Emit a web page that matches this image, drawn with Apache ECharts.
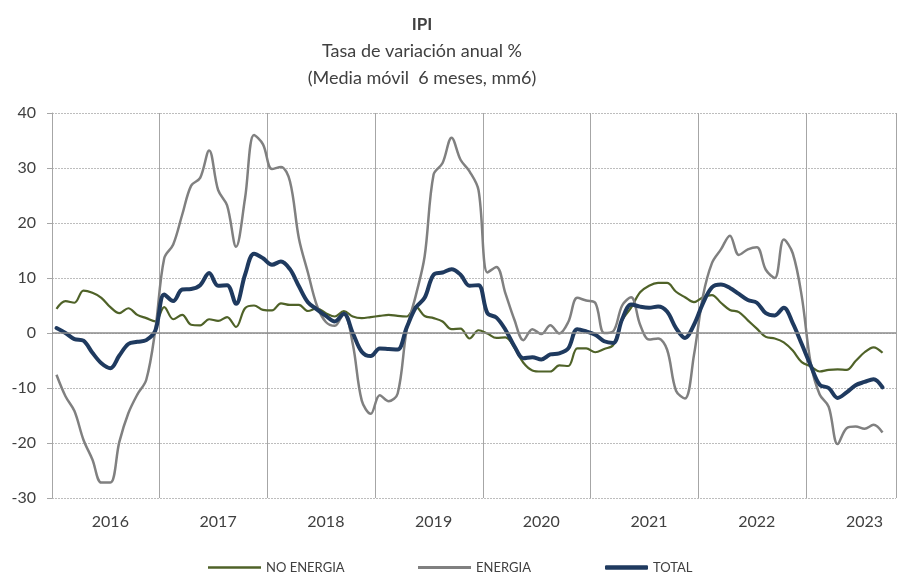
<!DOCTYPE html>
<html>
<head>
<meta charset="utf-8">
<script src="https://cdn.jsdelivr.net/npm/echarts@6/dist/echarts.min.js"></script>
<style>
  html, body { margin: 0; padding: 0; background: #fff; }
  #ipi { width: 899px; height: 572px; }
</style>
</head>
<body>
<div id="ipi"></div>
<script>
// años del eje, datos mensuales ene-2016 .. sep-2023
var years = ['2016', '2017', '2018', '2019', '2020', '2021', '2022', '2023'];

var noEnergia = [
    4.4, 5.8, 5.5, 7.7, 7.3, 6.4, 4.7, 3.6, 4.5, 3.3, 2.7, 2.1,
    4.7, 2.5, 3.3, 1.5, 1.4, 2.5, 2.2, 2.9, 1.1, 4.5, 5.0, 4.2,
    4.1, 5.4, 5.1, 5.1, 4.0, 4.5, 3.6, 3.0, 4.0, 3.0, 2.7, 2.9,
    3.1, 3.3, 3.1, 3.0, 4.8, 3.1, 2.7, 2.1, 0.7, 0.8, -1.0, 0.5,
    -0.1, -0.9, -0.8, -2.7, -5.4, -6.8, -7.0, -7.0, -5.9, -6.0, -2.8, -2.8,
    -3.5, -2.9, -2.2, 2.3, 4.6, 7.4, 8.6, 9.1, 9.1, 7.5, 6.5, 5.6,
    6.5, 6.9, 5.5, 4.2, 3.8, 2.3, 0.8, -0.7, -1.0, -1.7, -3.2, -5.3,
    -6.1, -7.0, -6.7, -6.6, -6.7, -5.1, -3.5, -2.6, -3.6
];

var energia = [
    -7.6, -11.5, -14.2, -19.4, -23.0, -27.2, -27.2, -19.8, -14.6, -11.2, -8.5, 0.5,
    13.6, 16.1, 21.5, 26.8, 28.2, 33.2, 26.0, 23.2, 15.7, 24.5, 36.0, 34.3,
    29.8, 30.2, 27.6, 17.2, 11.0, 5.0, 2.0, 1.3, 3.6, -2.0, -12.3, -14.7,
    -11.3, -12.4, -11.0, 0.5, 6.7, 13.9, 28.8, 30.9, 35.5, 31.5, 29.4, 26.0,
    11.0, 12.0, 7.2, 2.4, -1.3, 0.7, -0.2, 1.4, -0.1, 2.0, 6.4, 5.9,
    5.5, 0.0, 0.3, 5.0, 6.5, 1.5, -1.2, -1.0, -3.0, -10.5, -11.9, -4.0,
    6.7, 12.7, 15.2, 17.7, 14.2, 15.2, 15.6, 11.5, 10.0, 17.0, 14.5, 6.7,
    -5.5, -11.2, -13.4, -20.2, -17.3, -17.0, -17.4, -16.7, -18.1
];

var total = [
    0.9, 0.0, -1.1, -1.4, -3.6, -5.5, -6.4, -4.1, -2.0, -1.6, -1.3, 0.4,
    7.0, 5.8, 7.9, 8.0, 8.7, 10.9, 8.6, 8.7, 5.3, 10.6, 14.4, 13.6,
    12.4, 13.0, 11.6, 8.5, 5.6, 4.3, 3.1, 2.1, 3.5, 0.0, -3.4, -4.2,
    -2.8, -2.9, -3.0, 1.0, 4.6, 6.4, 10.6, 11.0, 11.6, 10.6, 8.6, 8.7,
    3.6, 2.8, 0.6, -2.4, -4.6, -4.4, -4.8, -3.9, -3.7, -2.8, 0.7, 0.3,
    -0.3, -1.5, -1.8, 2.5, 5.2, 4.8, 4.6, 4.8, 3.9, 0.9, -0.9, 1.5,
    5.4, 8.3, 8.8, 8.2, 7.1, 6.0, 5.5, 3.6, 3.2, 4.6, 1.8, -2.0,
    -5.9, -9.4, -10.0, -11.8, -10.8, -9.5, -8.9, -8.4, -9.9
];

// meses del eje: ene-2016 .. oct-2023 (el gráfico queda cortado ahí)
var months = [];
for (var y = 0; y < years.length; y++) {
    var last = (y === years.length - 1) ? 10 : 12;
    for (var m = 1; m <= last; m++) {
        months.push(years[y] + '-' + (m < 10 ? '0' + m : m));
    }
}

var font = 'Lato';
var textColor = '#404040';

function legendItem(name, left, width, height, icon) {
    return {
        data: [{ name: name, icon: icon }],
        left: left, top: 556,
        itemWidth: width, itemHeight: height,
        textStyle: { fontFamily: font, fontSize: 13, color: textColor }
    };
}

var myChart = echarts.init(document.getElementById('ipi'));
var option = {
    animation: false,
    textStyle: { fontFamily: font, color: textColor },
    title: [
        { text: 'IPI', left: 417, top: 11, textAlign: 'center',
          textStyle: { fontFamily: font, fontSize: 17, fontWeight: 'bold', color: textColor } },
        { text: 'Tasa de variación anual %', left: 417, top: 37, textAlign: 'center',
          textStyle: { fontFamily: font, fontSize: 18, fontWeight: 'normal', color: textColor } },
        { text: '(Media móvil  6 meses, mm6)', left: 417, top: 64, textAlign: 'center',
          textStyle: { fontFamily: font, fontSize: 18, fontWeight: 'normal', color: textColor } }
    ],
    legend: [
        legendItem('NO ENERGIA', 203, 53, 2.5, 'rect'),
        legendItem('ENERGIA', 413, 53, 3, 'rect'),
        legendItem('TOTAL', 600, 43, 4.5, 'roundRect')
    ],
    grid: { left: 52, top: 113, width: 844, height: 385, containLabel: false },
    xAxis: {
        type: 'category',
        data: months,
        boundaryGap: true,
        axisLine: { show: false },
        axisTick: { show: false },
        axisLabel: {
            interval: function (i) { return i % 12 === 6; },
            formatter: function (v) { return v.slice(0, 4); },
            fontFamily: font, fontSize: 16, color: textColor, margin: 16
        },
        splitLine: {
            show: true,
            interval: function (i) { return i % 12 === 0; },
            lineStyle: { color: '#a6a6a6', width: 1, type: 'solid' }
        }
    },
    yAxis: {
        type: 'value',
        min: -30,
        max: 40,
        interval: 10,
        axisLine: { show: true, lineStyle: { color: '#a6a6a6', width: 1 } },
        axisTick: { show: true, inside: false, length: 5, lineStyle: { color: '#a6a6a6' } },
        axisLabel: { fontFamily: font, fontSize: 16, color: textColor, margin: 16 },
        splitLine: { show: true, lineStyle: { color: '#bdbdbd', width: 1, type: [2, 1] } }
    },
    series: [
        {
            name: 'NO ENERGIA',
            type: 'line',
            data: noEnergia,
            smooth: 0.35,
            symbol: 'none',
            lineStyle: { color: '#4f6228', width: 2.2 },
            itemStyle: { color: '#4f6228' },
            markLine: {
                silent: true,
                symbol: 'none',
                label: { show: false },
                lineStyle: { color: '#8c8c8c', width: 1.5, type: 'solid' },
                data: [{ yAxis: 0 }]
            },
            z: 2
        },
        {
            name: 'ENERGIA',
            type: 'line',
            data: energia,
            smooth: 0.35,
            symbol: 'none',
            lineStyle: { color: '#808080', width: 2.5 },
            itemStyle: { color: '#808080' },
            z: 3
        },
        {
            name: 'TOTAL',
            type: 'line',
            data: total,
            smooth: 0.35,
            symbol: 'none',
            lineStyle: { color: '#1f3a5f', width: 4, cap: 'round' },
            itemStyle: { color: '#1f3a5f' },
            z: 4
        }
    ]
};
myChart.setOption(option);
</script>
</body>
</html>
